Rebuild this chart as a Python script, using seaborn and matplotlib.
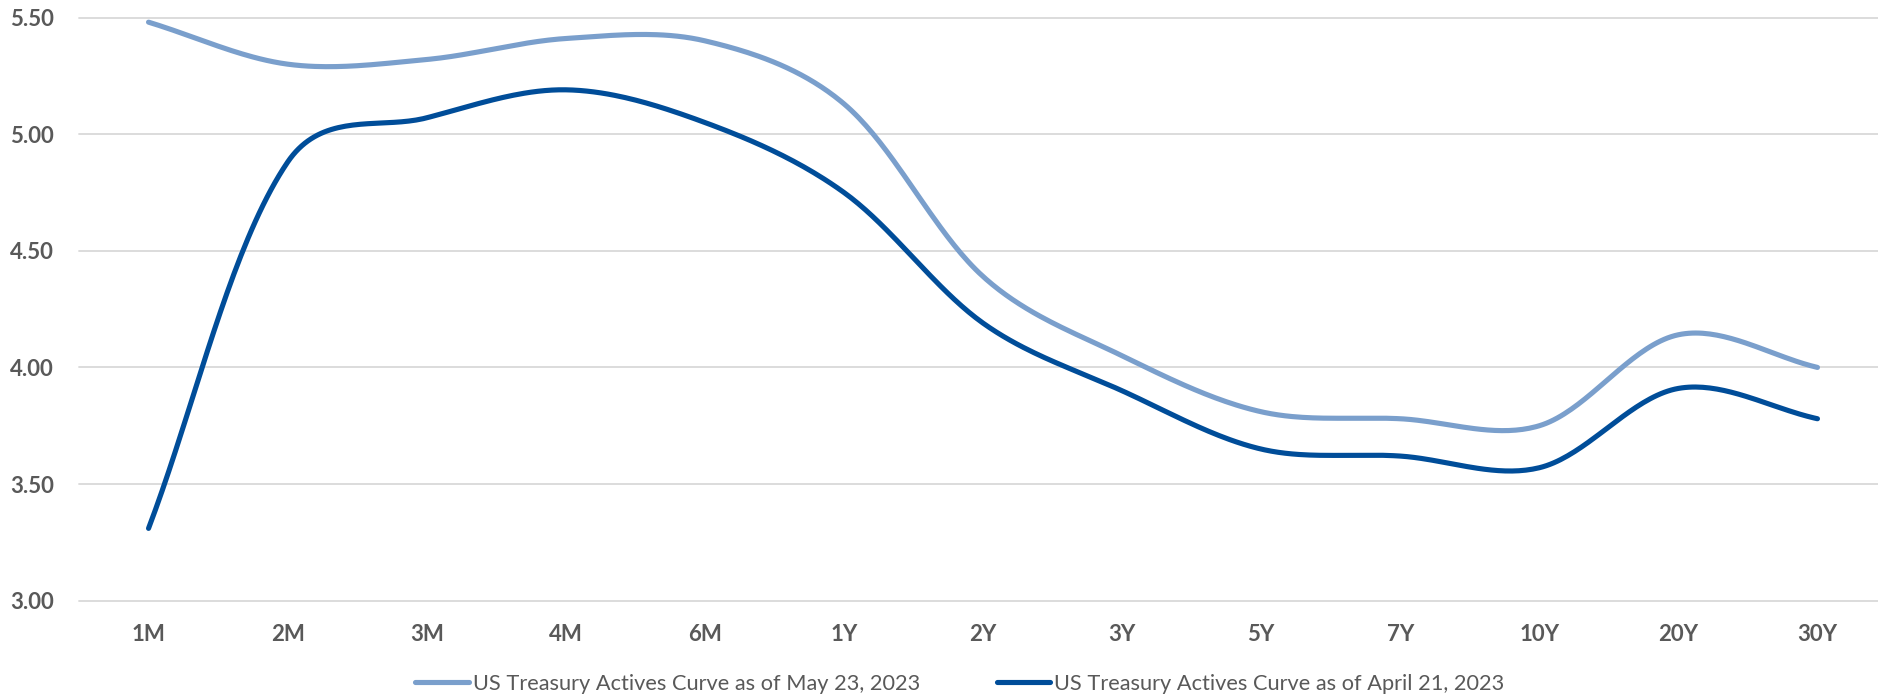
import numpy as np
import pandas as pd
import matplotlib
matplotlib.use("Agg")
import matplotlib.pyplot as plt
import seaborn as sns
from matplotlib.lines import Line2D

# ---- data ----
tenors = ["1M", "2M", "3M", "4M", "6M", "1Y", "2Y", "3Y", "5Y", "7Y", "10Y", "20Y", "30Y"]
may23 = [5.48, 5.30, 5.32, 5.41, 5.40, 5.13, 4.39, 4.05, 3.81, 3.78, 3.75, 4.14, 4.00]
apr21 = [3.31, 4.88, 5.07, 5.19, 5.05, 4.75, 4.19, 3.90, 3.65, 3.62, 3.57, 3.91, 3.78]
series_names = ["US Treasury Actives Curve as of May 23, 2023",
                "US Treasury Actives Curve as of April 21, 2023"]
yticks = [3.00, 3.50, 4.00, 4.50, 5.00, 5.50]

colors = ["#7A9FCC", "#004D99"]

sns.set_theme(style="white")
plt.rcParams["font.family"] = ["Lato", "DejaVu Sans"]

fig = plt.figure(figsize=(18.78, 6.98), dpi=100)
ax = fig.add_axes([79 / 1878, 97.3 / 698, 1808 / 1878, 583.2 / 698])
ax.set_xlim(-0.5, len(tenors) - 0.5)
ax.set_ylim(3.0, 5.5)

# screen scale (pixels per data unit) so the smoothing behaves like a spreadsheet chart
bb = ax.get_window_extent()
sx_scale = bb.width / (len(tenors))
sy_scale = bb.height / 2.5


def smooth(values, n=40, alpha=0.5):
    """Bezier smoothed line through the points, tangents weighted by segment lengths."""
    P = np.column_stack([np.arange(len(values)) * sx_scale,
                         np.asarray(values, float) * sy_scale])
    k = len(P)
    d = np.linalg.norm(np.diff(P, axis=0), axis=1) ** alpha
    fwd = np.zeros_like(P)
    bwd = np.zeros_like(P)
    for i in range(k):
        if i == 0:
            fwd[i] = P[0] + (P[1] - P[0]) / 3.0
        elif i == k - 1:
            bwd[i] = P[-1] - (P[-1] - P[-2]) / 3.0
        else:
            T = P[i + 1] - P[i - 1]
            s = d[i - 1] + d[i]
            fwd[i] = P[i] + T * (d[i] / s) / 3.0
            bwd[i] = P[i] - T * (d[i - 1] / s) / 3.0
    out = []
    for i in range(k - 1):
        t = np.linspace(0, 1, n, endpoint=(i == k - 2))[:, None]
        B = ((1 - t) ** 3 * P[i] + 3 * (1 - t) ** 2 * t * fwd[i]
             + 3 * (1 - t) * t ** 2 * bwd[i + 1] + t ** 3 * P[i + 1])
        out.append(B)
    out = np.vstack(out)
    return out[:, 0] / sx_scale, out[:, 1] / sy_scale


frames = []
for name, vals in zip(series_names, [may23, apr21]):
    cx, cy = smooth(vals)
    frames.append(pd.DataFrame({"x": cx, "y": cy, "series": name}))
df = pd.concat(frames, ignore_index=True)

for yv in yticks:
    ax.axhline(yv, color="#D9D9D9", lw=1.3, zorder=0, clip_on=False)

sns.lineplot(data=df, x="x", y="y", hue="series", palette=colors, sort=False,
             estimator=None, lw=3.7, ax=ax, legend=False,
             solid_capstyle="round")

ax.set_xlim(-0.5, len(tenors) - 0.5)
ax.set_ylim(3.0, 5.5)
ax.set_xticks(range(len(tenors)))
ax.set_xticklabels(tenors)
ax.set_yticks(yticks)
ax.set_yticklabels([f"{v:.2f}" for v in yticks])
ax.set_xlabel("")
ax.set_ylabel("")
for s in ax.spines.values():
    s.set_visible(False)
ax.tick_params(axis="both", length=0, labelsize=16, labelcolor="#595959")
ax.tick_params(axis="y", pad=18)
ax.tick_params(axis="x", pad=17)
for lab in ax.get_xticklabels() + ax.get_yticklabels():
    lab.set_fontweight("bold")

handles = [Line2D([0], [0], color=c, lw=3.7, solid_capstyle="round") for c in colors]
fig.legend(handles, series_names, loc="center", bbox_to_anchor=(960 / 1878, 1 - 684 / 698),
           ncol=2, frameon=False, fontsize=15.7, labelcolor="#595959",
           handlelength=2.45, handletextpad=0.2, columnspacing=3.5)

fig.savefig("out.png", dpi=100)
